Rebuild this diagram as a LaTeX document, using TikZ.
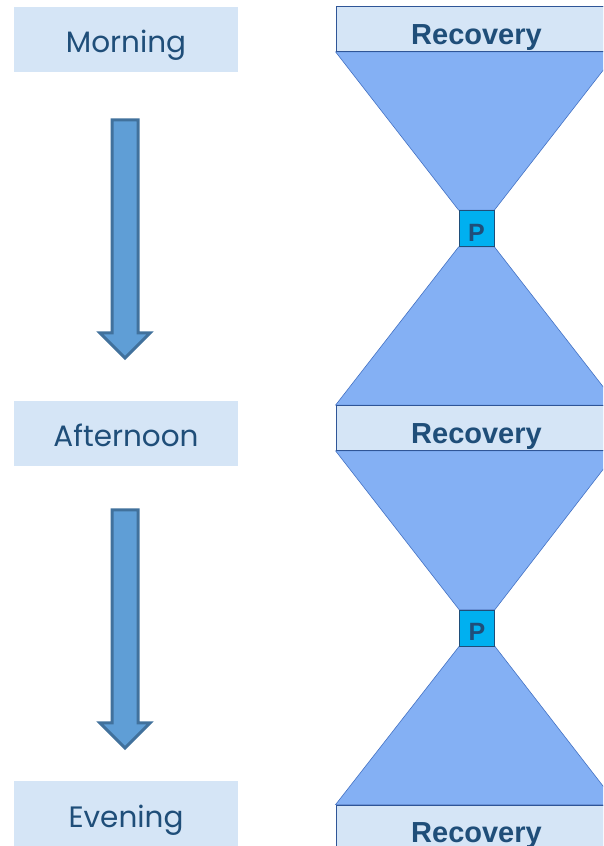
\documentclass[tikz,border=0pt]{standalone}
\usepackage{fontspec}
\setmainfont{Liberation Sans}
\newfontfamily\gothic{Poppins}
\usetikzlibrary{shapes.arrows}

\definecolor{boxblue}{HTML}{D5E5F6}
\definecolor{textblue}{HTML}{1F4E79}
\definecolor{recline}{HTML}{2F5597}
\definecolor{funnelfill}{HTML}{84B0F4}
\definecolor{funnelline}{HTML}{4472C4}
\definecolor{arrowfill}{HTML}{5F9ED6}
\definecolor{arrowline}{HTML}{41719C}
\definecolor{pfill}{HTML}{00B0F0}

\tikzset{
  daybox/.style={fill=boxblue, minimum width=224pt, minimum height=65pt, inner sep=0pt,
    text=textblue, font=\gothic\fontsize{29.5}{29.5}\selectfont, text height=27pt, text depth=0pt},
  recbox/.style={draw=recline, line width=0.8pt, fill=boxblue, minimum width=281pt,
    minimum height=45pt, inner sep=0pt, text=textblue,
    font=\bfseries\fontsize{29}{29}\selectfont, text height=31pt, text depth=0pt},
  pbox/.style={draw=textblue, line width=0.8pt, fill=pfill, minimum width=35pt,
    minimum height=36pt, inner sep=0pt, text=textblue,
    font=\bfseries\fontsize{25}{25}\selectfont, text height=26pt, text depth=0pt},
  timearrow/.style={single arrow, draw=arrowline, line width=3pt, fill=arrowfill,
    minimum height=238pt, single arrow head extend=12pt,
    single arrow head indent=0pt, inner sep=11.5pt, rotate=-90, anchor=tail},
  funnel/.style={draw=funnelline, line width=0.6pt, fill=funnelfill}
}

\begin{document}
\begin{tikzpicture}[x=1pt,y=1pt]
	\useasboundingbox (0,0) rectangle (603,846);
	\clip (0,0) rectangle (603,846);

	% times of day
	\node [daybox] (morning) at (126,806.5) {Morning};
	\node [daybox] (afternoon) at (126,412.5) {Afternoon};
	\node [daybox] (evening) at (126,32.5) {Evening};
	\node [timearrow] (arrow1) at (125,727.5) {};
	\node [timearrow] (arrow2) at (125,337.5) {};

	% hourglasses
	\node [pbox] (p1) at (476.5,617.5) {P};
	\node [pbox] (p2) at (477,218) {P};
	\coordinate (rec1pos) at (476.5,817);
	\coordinate (rec2pos) at (476.5,418);
	\coordinate (rec3pos) at (476.5,18.5);
	\path (rec1pos) node [recbox] (rec1) {}
	      (rec2pos) node [recbox] (rec2) {}
	      (rec3pos) node [recbox] (rec3) {};

	\draw [funnel] (rec1.south west) -- (rec1.south east) -- (p1.north east) -- (p1.north west) -- cycle;
	\draw [funnel] (p1.south west) -- (p1.south east) -- (rec2.north east) -- (rec2.north west) -- cycle;
	\draw [funnel] (rec2.south west) -- (rec2.south east) -- (p2.north east) -- (p2.north west) -- cycle;
	\draw [funnel] (p2.south west) -- (p2.south east) -- (rec3.north east) -- (rec3.north west) -- cycle;

	\node [recbox] at (rec1) {Recovery};
	\node [recbox] at (rec2) {Recovery};
	\node [recbox] at (rec3) {Recovery};
	\node [pbox] at (p1) {P};
	\node [pbox] at (p2) {P};
\end{tikzpicture}
\end{document}
